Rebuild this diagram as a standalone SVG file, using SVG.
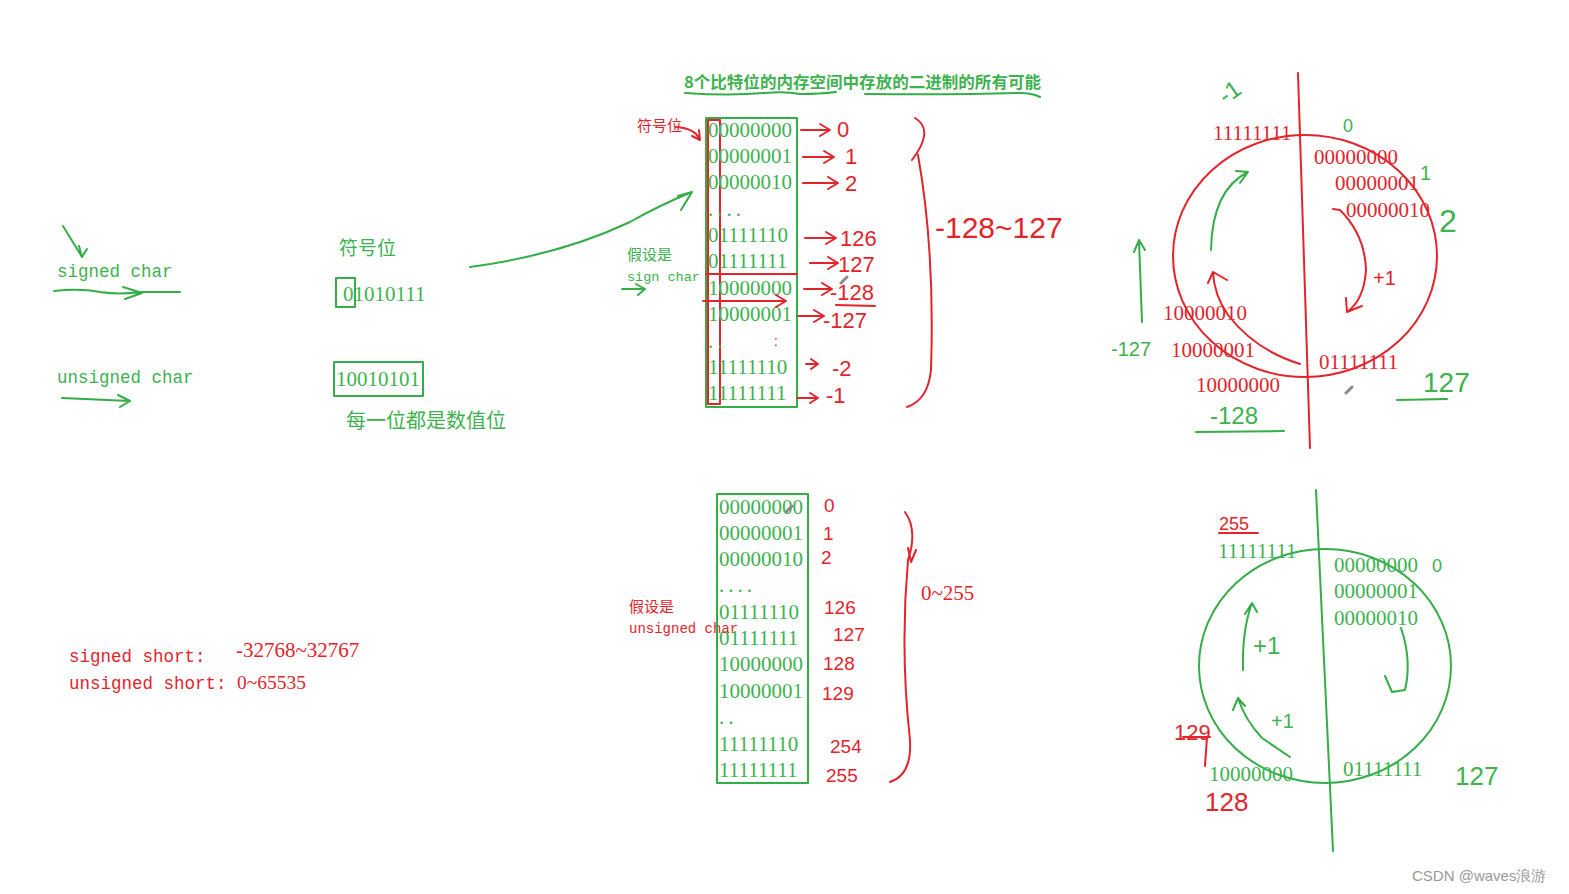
<svg xmlns="http://www.w3.org/2000/svg" width="1569" height="894" viewBox="0 0 1569 894">
<style>
.g{fill:#3db24f}
.r{fill:#e3242b}
.bin{font-family:"Liberation Serif",serif;font-size:21px}
.mono{font-family:"Liberation Mono",monospace}
.cjk{font-family:"Noto Sans CJK SC",sans-serif}
.hand{font-family:"Liberation Sans",sans-serif}
.dots{letter-spacing:4px}
.sg{fill:none;stroke:#35ad48;stroke-width:2;stroke-linecap:round;stroke-linejoin:round}
.sr{fill:none;stroke:#e3242b;stroke-width:2;stroke-linecap:round;stroke-linejoin:round}
.gray{fill:none;stroke:#8a8a8a;stroke-width:3;stroke-linecap:round}
</style>
<rect width="1569" height="894" fill="#ffffff"/>

<g id="title">
<text x="684" y="88" class="g cjk" font-size="16" font-weight="bold" textLength="357" lengthAdjust="spacingAndGlyphs">8个比特位的内存空间中存放的二进制的所有可能</text>
<path class="sg" d="M685,93 Q730,96 765,93 Q785,91 800,94 Q820,94 836,92"/>
<path class="sg" d="M865,94 Q950,95 1020,93 Q1032,93 1040,97"/>
</g>

<g id="left-types">
<path class="sg" d="M63,226 L82,257 M82,257 L79,246 M82,257 L87,249"/>
<text x="57" y="277" class="g mono" font-size="17.5">signed char</text>
<path class="sg" d="M54,291 Q80,288 100,292 Q120,295 140,292 L180,292 M123,287 L142,293 L125,299"/>
<text x="57" y="383" class="g mono" font-size="17.5">unsigned char</text>
<path class="sg" d="M62,398 L130,401 M118,395 L130,401 L120,407"/>
</g>

<g id="sign-example">
<text x="339" y="255" class="g cjk" font-size="19">符号位</text>
<rect x="336" y="278" width="19" height="29" class="sg"/>
<text x="343" y="301" class="g bin">01010111</text>
<rect x="334" y="362" width="89" height="34" class="sg"/>
<text x="336" y="386" class="g bin">10010101</text>
<text x="346" y="428" class="g cjk" font-size="20">每一位都是数值位</text>
</g>

<g id="short-ranges">
<text x="69" y="662" class="r mono" font-size="17.5">signed short:</text>
<text x="236" y="657" class="r bin" font-size="19.5">-32768~32767</text>
<text x="69" y="689" class="r mono" font-size="17.5">unsigned short: <tspan font-family="Liberation Serif" font-size="19.5">0~65535</tspan></text>
</g>

<g id="signed-column">
<text x="637" y="131" class="r cjk" font-size="15">符号位</text>
<text x="627" y="260" class="g cjk" font-size="15">假设是</text>
<text x="627" y="281" class="g mono" font-size="13.5">sign char</text>
<path class="sg" d="M622,289 L645,289 M636,284 L645,289 L638,295"/>
<rect x="706" y="118" width="91" height="289" class="sg"/>
<rect x="708" y="120" width="12" height="284" class="sr"/>
<path class="sr" d="M706,274 L797,274"/>
<g class="g bin">
<text x="708" y="137">00000000</text>
<text x="708" y="163">00000001</text>
<text x="708" y="189">00000010</text>
<text x="708" y="216" class="dots">....</text>
<text x="708" y="242">01111110</text>
<text x="708" y="268">01111111</text>
<text x="708" y="295">10000000</text>
<text x="708" y="321">10000001</text>
<text x="708" y="348" class="dots">..</text>
<text x="708" y="374">11111110</text>
<text x="708" y="400">11111111</text>
</g>
<text x="774" y="346" class="r hand" font-size="14">:</text>
</g>

<g id="signed-values">
<g class="r hand" font-size="22">
<text x="837" y="137">0</text>
<text x="845" y="164">1</text>
<text x="845" y="191">2</text>
<text x="840" y="246">126</text>
<text x="838" y="272">127</text>
<text x="830" y="300">-128</text>
<text x="823" y="328">-127</text>
<text x="832" y="376">-2</text>
<text x="826" y="403">-1</text>
</g>
<text x="935" y="238" class="r hand" font-size="30">-128~127</text>
</g>

<g id="unsigned-column">
<text x="629" y="612" class="r cjk" font-size="15">假设是</text>
<text x="629" y="633" class="r mono" font-size="14">unsigned char</text>
<rect x="717" y="494" width="91" height="289" class="sg"/>
<g class="g bin">
<text x="719" y="514">00000000</text>
<text x="719" y="540">00000001</text>
<text x="719" y="566">00000010</text>
<text x="719" y="592" class="dots">....</text>
<text x="719" y="619">01111110</text>
<text x="719" y="645">01111111</text>
<text x="719" y="671">10000000</text>
<text x="719" y="698">10000001</text>
<text x="719" y="724" class="dots">..</text>
<text x="719" y="751">11111110</text>
<text x="719" y="777">11111111</text>
</g>
<g class="r hand" font-size="19">
<text x="824" y="512">0</text>
<text x="823" y="540">1</text>
<text x="821" y="564">2</text>
<text x="824" y="614">126</text>
<text x="833" y="641">127</text>
<text x="823" y="670">128</text>
<text x="822" y="700">129</text>
<text x="830" y="753">254</text>
<text x="826" y="782">255</text>
</g>
<text x="921" y="600" class="r bin" font-size="19.5">0~255</text>
</g>

<g id="signed-circle">
<ellipse cx="1305" cy="256" rx="132" ry="121" class="sr"/>
<path class="sr" d="M1298,73 L1310,448"/>
<g class="r bin" font-size="20">
<text x="1213" y="140">11111111</text>
<text x="1314" y="164">00000000</text>
<text x="1335" y="190">00000001</text>
<text x="1346" y="217">00000010</text>
<text x="1163" y="320">10000010</text>
<text x="1171" y="357">10000001</text>
<text x="1196" y="392">10000000</text>
<text x="1319" y="369">01111111</text>
</g>
<text x="1373" y="285" class="r hand" font-size="20">+1</text>
<g class="g hand">
<text x="1219" y="100" font-size="24" transform="rotate(-35 1230 92)">-1</text>
<text x="1343" y="132" font-size="18">0</text>
<text x="1420" y="180" font-size="20">1</text>
<text x="1439" y="232" font-size="32">2</text>
<text x="1111" y="356" font-size="20">-127</text>
<text x="1423" y="392" font-size="28">127</text>
<text x="1210" y="424" font-size="24">-128</text>
</g>
</g>

<g id="unsigned-circle">
<ellipse cx="1325" cy="666" rx="126" ry="117" class="sg"/>
<path class="sg" d="M1316,490 L1333,851"/>
<g class="g bin" font-size="20">
<text x="1218" y="558">11111111</text>
<text x="1334" y="572">00000000</text>
<text x="1334" y="598">00000001</text>
<text x="1334" y="625">00000010</text>
<text x="1209" y="781">10000000</text>
<text x="1343" y="776">01111111</text>
</g>
<g class="g hand">
<text x="1432" y="572" font-size="18">0</text>
<text x="1455" y="785" font-size="26">127</text>
<text x="1253" y="654" font-size="24">+1</text>
<text x="1271" y="728" font-size="20">+1</text>
</g>
<g class="r hand">
<text x="1219" y="530" font-size="18">255</text>
<text x="1174" y="740" font-size="22">129</text>
<text x="1205" y="811" font-size="26">128</text>
</g>
<path class="sr" d="M1219,533 L1258,533 M1183,737 L1210,737 M1207,737 L1205,766"/>
</g>

<g id="connectors">
<path class="sg" d="M470,267 Q560,255 630,222 Q660,205 692,192 M692,192 L678,196 M692,192 L681,210"/>
<path class="sr" d="M676,127 Q695,128 700,140 M700,140 L699,130 M700,140 L692,136"/>
<path class="sr" d="M801,130 L830,130 M820,124 L830,130 L820,136"/>
<path class="sr" d="M803,157 L834,157 M824,151 L834,157 L824,163"/>
<path class="sr" d="M803,183 L838,183 M828,177 L838,183 L828,189"/>
<path class="sr" d="M805,238 L836,238 M826,232 L836,238 L826,244"/>
<path class="sr" d="M810,263 L838,263 M828,257 L838,263 L828,269"/>
<path class="sr" d="M804,289 L832,289 M822,283 L832,289 L822,295"/>
<path class="sr" d="M836,305 L875,306"/>
<path class="sr" d="M703,301 L786,301 M776,295 L786,301 L776,307"/>
<path class="sr" d="M798,316 L824,316 M814,310 L824,316 L814,322"/>
<path class="sr" d="M806,364 L818,364 M811,359 L818,364 L811,369"/>
<path class="sr" d="M797,398 L818,398 M810,393 L818,398 L810,403"/>
<path class="sr" d="M915,118 Q935,130 912,160 M918,155 Q935,250 931,370 Q928,400 907,407"/>
<path class="sr" d="M905,512 Q918,530 908,560 Q900,650 910,740 Q912,775 890,782 M908,548 L911,562 L916,550"/>
<path class="sg" d="M1142,322 L1139,240 M1139,240 L1134,252 M1139,240 L1145,250"/>
<path class="sg" d="M1211,250 Q1212,190 1248,172 M1248,172 L1236,171 M1248,172 L1240,183"/>
<path class="sr" d="M1333,209 L1340,210 Q1365,235 1366,270 Q1364,300 1347,312 M1347,312 L1346,298 M1347,312 L1362,306"/>
<path class="sr" d="M1300,364 Q1255,350 1228,315 Q1214,295 1213,272 M1213,272 L1208,283 M1213,272 L1227,280"/>
<path class="sg" d="M1397,400 L1447,399 M1196,432 L1284,431"/>
<path class="sg" d="M1243,670 Q1242,630 1252,603 M1252,603 L1245,614 M1252,603 L1257,612"/>
<path class="sg" d="M1290,757 L1262,738 Q1245,720 1238,698 M1238,698 L1233,710 M1238,698 L1245,706"/>
<path class="sg" d="M1401,628 Q1412,660 1405,690 L1392,692 L1385,676"/>
</g>

<g id="cursors">
<path class="gray" d="M1346,393 L1352,387 M841,283 L847,277 M786,512 L792,506"/>
</g>

<text x="1412" y="881" font-family="Liberation Sans, sans-serif" font-size="15" fill="#9a9a9a">CSDN @waves浪游</text>
</svg>
